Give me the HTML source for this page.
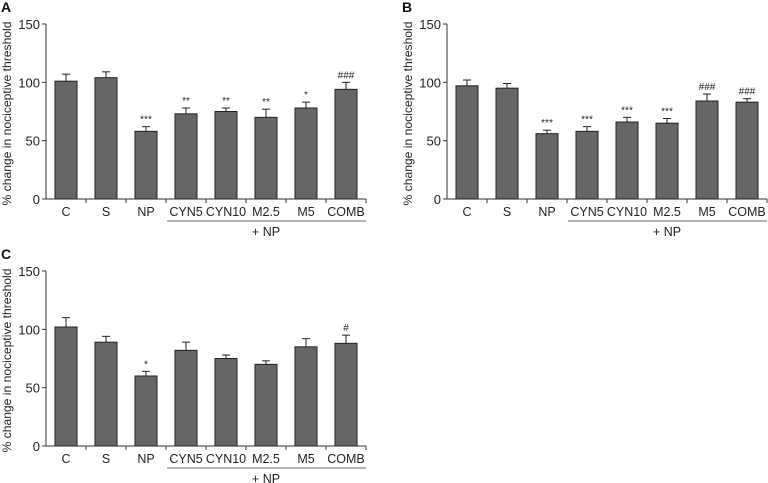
<!DOCTYPE html>
<html><head><meta charset="utf-8"><style>
html,body{margin:0;padding:0;background:#fff;}
svg{display:block;font-family:"Liberation Sans",sans-serif;}
</style></head><body>
<svg id="fig" width="768" height="483" viewBox="0 0 768 483"></svg>
<script>
const categories = ["C","S","NP","CYN5","CYN10","M2.5","M5","COMB"];
const yTicks = [0,50,100,150];
const valuesA = [101,104,58,73,75,70,78,94];
const errorsA = [6,5,4,5,3,7,5,6];
const marksA = ["","","***","**","**","**","*","###"];
const valuesB = [97,95,56,58,66,65,84,83];
const errorsB = [5,4,3,4,4,4,6,3];
const marksB = ["","","***","***","***","***","###","###"];
const valuesC = [102,89,60,82,75,70,85,88];
const errorsC = [8,5,4,7,3,3,7,7];
const marksC = ["","","*","","","","","#"];

const NS="http://www.w3.org/2000/svg";
const svg=document.getElementById('fig');
function mk(tag,attrs,parent){const e=document.createElementNS(NS,tag);for(const k in attrs)e.setAttribute(k,attrs[k]);(parent||svg).appendChild(e);return e;}

function panel(id,letter,ox,top,bottom,vals,errs,marks){
  const g=mk('g',{});
  
  
  const y=v=>bottom-(v/150)*(bottom-top);
  const step=40, x0=ox;
  const xc=i=>x0+20+i*step;
  const L=mk('text',{x:ox-45,y:top-12,'font-size':14,'font-weight':'bold',fill:'#111'},g);L.textContent=letter;
  
  
  const yt=mk('text',{transform:`translate(${ox-35},${(top+bottom)/2+2}) rotate(-90)`,'text-anchor':'middle','font-size':12,textLength:184,lengthAdjust:'spacingAndGlyphs',fill:'#222'},g);
  yt.textContent='% change in nociceptive threshold';
  
  
  const ya=mk('line',{x1:ox,y1:top,x2:ox,y2:bottom,stroke:'#333','stroke-width':1},g);
  
  
  yTicks.forEach(t=>{
    mk('line',{x1:ox-4,y1:y(t),x2:ox,y2:y(t),stroke:'#333'},g);
    const tx=mk('text',{x:ox-6,y:y(t)+5,'text-anchor':'end','font-size':13,fill:'#222'},g);tx.textContent=t;
    
    
  });
  const xa=mk('line',{x1:ox,y1:bottom,x2:ox+categories.length*step,y2:bottom,stroke:'#333'},g);
  
  
  categories.forEach((c,i)=>{
    mk('line',{x1:x0+(i+1)*step,y1:bottom,x2:x0+(i+1)*step,y2:bottom+4,stroke:'#333'},g);
    const cx=xc(i),v=vals[i],e=errs[i];
    mk('line',{x1:cx,y1:y(v+e),x2:cx,y2:y(v),stroke:'#222'},g);
    mk('line',{x1:cx-4,y1:y(v+e),x2:cx+4,y2:y(v+e),stroke:'#222'},g);
    const b=mk('rect',{x:cx-11,y:y(v),width:22,height:bottom-y(v),fill:'#666',stroke:'#222','stroke-width':1},g);
    
    
    if(marks[i]){const m=mk('text',{x:cx,y:y(v+e)-4,'text-anchor':'middle','font-size':10,fill:'#222'},g);m.textContent=marks[i];
      
      }
    const lb=mk('text',{x:cx,y:bottom+17,'text-anchor':'middle','font-size':12.5,fill:'#222'},g);lb.textContent=c;
    
    
  });
  const ul=mk('line',{x1:x0+3*step+1,y1:bottom+22,x2:x0+8*step,y2:bottom+22,stroke:'#888','stroke-width':1.3},g);
  
  
  const np=mk('text',{x:x0+5.5*step,y:bottom+37,'text-anchor':'middle','font-size':12.5,fill:'#222'},g);np.textContent='+ NP';
  
  
}
panel('a','A',46,24,199,valuesA,errorsA,marksA);
panel('b','B',447,24,199,valuesB,errorsB,marksB);
panel('c','C',46,271,446,valuesC,errorsC,marksC);
</script>
</body></html>
